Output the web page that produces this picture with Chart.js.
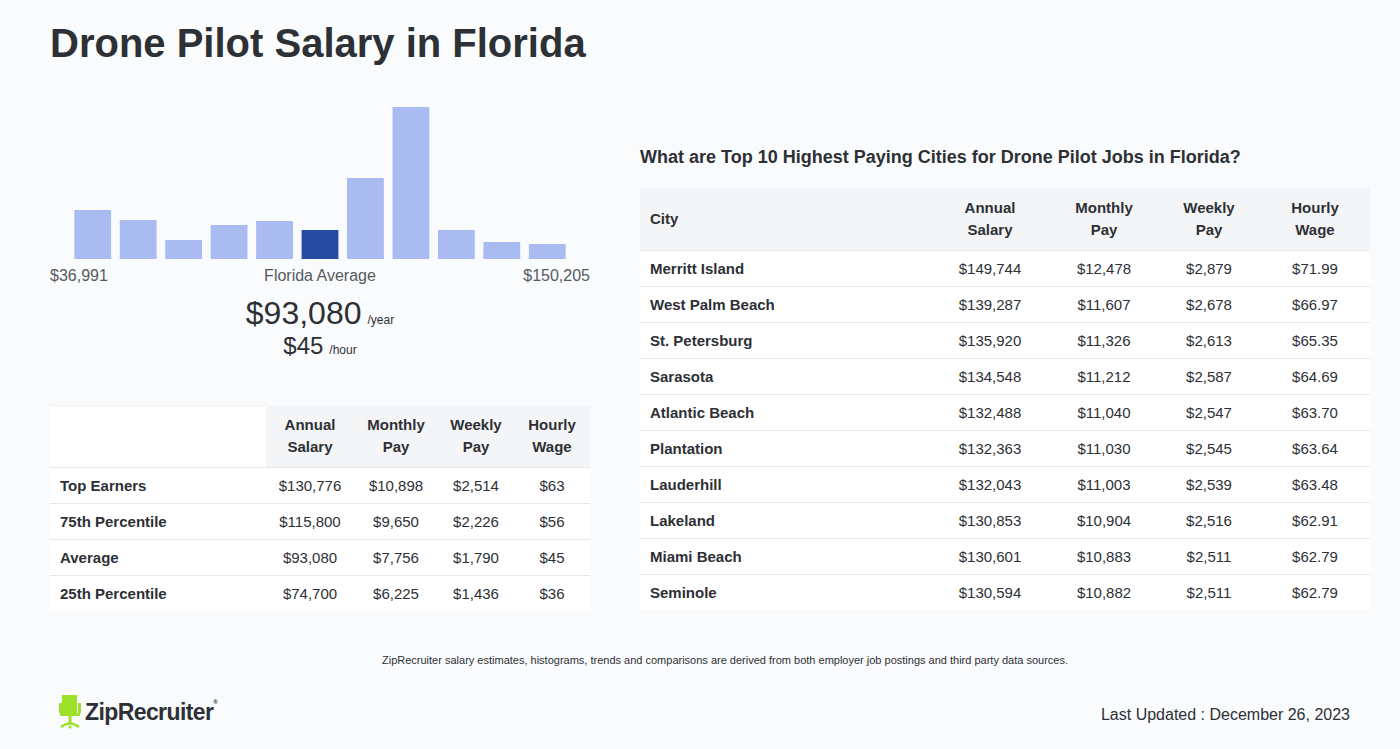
<!DOCTYPE html>
<html>
<head>
<meta charset="utf-8">
<script src="https://cdn.jsdelivr.net/npm/chart.js@4.4.0/dist/chart.umd.min.js"></script>
<style>
  body { margin: 0; width: 1400px; height: 749px; background: #fafbfd; font-family: "Liberation Sans", Arial, sans-serif; color: #2d3035; position: relative; overflow: hidden; }
  h1 { position: absolute; left: 50px; top: 21px; margin: 0; font-size: 40px; font-weight: bold; }
  .hist { position: absolute; left: 70px; top: 100px; width: 500px; height: 159px; }
  .lbl { position: absolute; top: 267px; font-size: 16px; color: #555a60; }
  .avg { position: absolute; left: 50px; width: 540px; text-align: center; color: #2d3035; }
  .avg small { font-size: 12px; margin-left: 6px; }
  table { position: absolute; border-collapse: collapse; font-size: 15px; table-layout: fixed; }
  th { font-weight: bold; line-height: 22px; padding: 0; text-align: center; }
  td { height: 35px; padding: 0; text-align: center; border-top: 1px solid #e6e8eb; background: #fff; }
  td.name { text-align: left; padding-left: 10px; font-weight: bold; }
  #pct { left: 50px; top: 405px; width: 540px; }
  #pct thead th { height: 61px; background: #f4f5f7; }
  #pct thead th.blank { background: #fff; border-top: 1px solid #eef0f2; }
  #city { left: 640px; top: 188px; width: 730px; }
  #city thead th { height: 62px; background: #f4f5f7; }
  #city thead th.cityh { text-align: left; padding-left: 10px; }
  .sub { position: absolute; left: 640px; top: 147px; font-size: 18px; font-weight: bold; margin: 0; }
  .note { position: absolute; left: 0; width: 1450px; top: 654px; text-align: center; font-size: 11px; }
  .logo { position: absolute; left: 59px; top: 695px; height: 36px; }
  .logo span { position: absolute; left: 26px; top: 4px; font-size: 23px; font-weight: bold; letter-spacing: -0.6px; white-space: nowrap; }
  .logo sup { font-size: 6px; vertical-align: top; }
  .updated { position: absolute; right: 50px; top: 706px; font-size: 16px; }
</style>
</head>
<body>
<h1>Drone Pilot Salary in Florida</h1>

<div class="hist"><canvas id="histChart"></canvas></div>
<div class="lbl" style="left:50px">$36,991</div>
<div class="lbl" style="left:50px;width:540px;text-align:center">Florida Average</div>
<div class="lbl" style="left:440px;width:150px;text-align:right">$150,205</div>
<div class="avg" style="top:295px;font-size:32px">$93,080<small>/year</small></div>
<div class="avg" style="top:332px;font-size:24px">$45<small>/hour</small></div>

<table id="pct">
  <colgroup><col style="width:216px"><col style="width:88px"><col style="width:84px"><col style="width:76px"><col style="width:76px"></colgroup>
  <thead><tr>
    <th class="blank"></th>
    <th>Annual<br>Salary</th>
    <th>Monthly<br>Pay</th>
    <th>Weekly<br>Pay</th>
    <th>Hourly<br>Wage</th>
  </tr></thead>
  <tbody id="pctBody"></tbody>
</table>

<p class="sub">What are Top 10 Highest Paying Cities for Drone Pilot Jobs in Florida?</p>
<table id="city">
  <colgroup><col style="width:290px"><col style="width:120px"><col style="width:108px"><col style="width:102px"><col style="width:110px"></colgroup>
  <thead><tr>
    <th class="cityh">City</th>
    <th>Annual<br>Salary</th>
    <th>Monthly<br>Pay</th>
    <th>Weekly<br>Pay</th>
    <th>Hourly<br>Wage</th>
  </tr></thead>
  <tbody id="cityBody"></tbody>
</table>

<div class="note">ZipRecruiter salary estimates, histograms, trends and comparisons are derived from both employer job postings and third party data sources.</div>

<div class="logo">
  <svg width="22" height="34" viewBox="0 0 22 34">
    <rect x="3" y="0" width="15" height="19" fill="#9fe02b"/>
    <rect x="0" y="8" width="3" height="10" fill="#9fe02b"/>
    <rect x="19" y="8" width="3" height="10" fill="#9fe02b"/>
    <rect x="1" y="18" width="20" height="3" fill="#9fe02b"/>
    <rect x="9.5" y="20" width="3" height="8" fill="#9fe02b"/>
    <path d="M2 32 Q11 25 20 32" stroke="#9fe02b" stroke-width="2.5" fill="none"/>
    <circle cx="11" cy="32" r="1.6" fill="#9fe02b"/>
  </svg>
  <span>ZipRecruiter<sup>®</sup></span>
</div>
<div class="updated">Last Updated : December 26, 2023</div>

<script>
// histogram bins (relative counts)
const binLabels = ["1", "2", "3", "4", "5", "6", "7", "8", "9", "10", "11"];
const binCounts = [49, 39, 19, 34, 38, 29, 81, 152, 29, 17, 15];
const avgBin = 5;

const pctRows = ["Top Earners", "75th Percentile", "Average", "25th Percentile"];
const pctAnnual = ["$130,776", "$115,800", "$93,080", "$74,700"];
const pctMonthly = ["$10,898", "$9,650", "$7,756", "$6,225"];
const pctWeekly = ["$2,514", "$2,226", "$1,790", "$1,436"];
const pctHourly = ["$63", "$56", "$45", "$36"];

const cities = ["Merritt Island", "West Palm Beach", "St. Petersburg", "Sarasota", "Atlantic Beach",
  "Plantation", "Lauderhill", "Lakeland", "Miami Beach", "Seminole"];
const cityAnnual = ["$149,744", "$139,287", "$135,920", "$134,548", "$132,488", "$132,363", "$132,043", "$130,853", "$130,601", "$130,594"];
const cityMonthly = ["$12,478", "$11,607", "$11,326", "$11,212", "$11,040", "$11,030", "$11,003", "$10,904", "$10,883", "$10,882"];
const cityWeekly = ["$2,879", "$2,678", "$2,613", "$2,587", "$2,547", "$2,545", "$2,539", "$2,516", "$2,511", "$2,511"];
const cityHourly = ["$71.99", "$66.97", "$65.35", "$64.69", "$63.70", "$63.64", "$63.48", "$62.91", "$62.79", "$62.79"];

function fillRows(bodyId, names, cols) {
  const body = document.getElementById(bodyId);
  names.forEach((n, i) => {
    const tr = document.createElement("tr");
    tr.innerHTML = `<td class="name">${n}</td>` + cols.map(c => `<td>${c[i]}</td>`).join("");
    body.appendChild(tr);
  });
}
fillRows("pctBody", pctRows, [pctAnnual, pctMonthly, pctWeekly, pctHourly]);
fillRows("cityBody", cities, [cityAnnual, cityMonthly, cityWeekly, cityHourly]);

new Chart(document.getElementById("histChart").getContext("2d"), {
  type: "bar",
  data: {
    labels: binLabels,
    datasets: [{
      data: binCounts,
      backgroundColor: binCounts.map((_, i) => (i === avgBin ? "#274ba1" : "#aabbf1")),
      barPercentage: 0.81,
      categoryPercentage: 1,
    }],
  },
  options: {
    responsive: true,
    maintainAspectRatio: false,
    animation: false,
    layout: { padding: 0 },
    plugins: { legend: { display: false }, tooltip: { enabled: false } },
    scales: {
      x: { display: false },
      y: { display: false, min: 0, max: 159 },
    },
  },
});
</script>
</body>
</html>
